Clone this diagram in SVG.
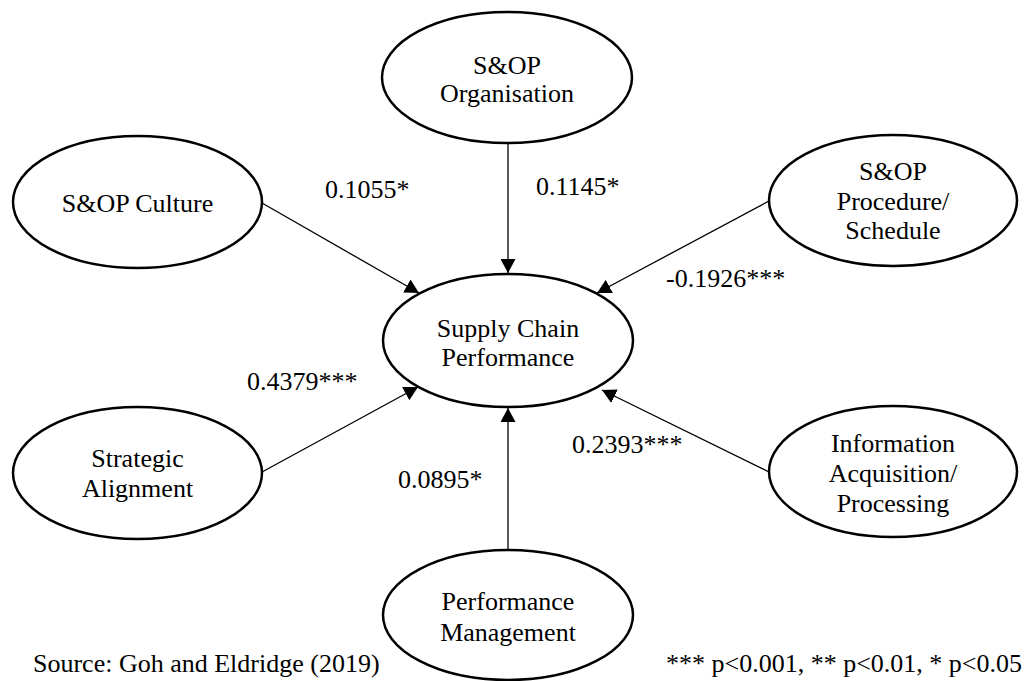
<svg xmlns="http://www.w3.org/2000/svg" width="1027" height="681" viewBox="0 0 1027 681">
<defs>
<marker id="ah" markerUnits="userSpaceOnUse" markerWidth="15" markerHeight="15" refX="14" refY="7.5" orient="auto">
<path d="M0,0 L14,7.5 L0,15 z" fill="#000"/>
</marker>
</defs>
<rect width="1027" height="681" fill="#fff"/>
<g id="connectors" stroke="#000" stroke-width="1.3" marker-end="url(#ah)">
<line x1="262" y1="203" x2="419" y2="293"/>
<line x1="508" y1="143" x2="508" y2="273"/>
<line x1="769" y1="201" x2="597" y2="293"/>
<line x1="262" y1="472" x2="418" y2="387"/>
<line x1="769" y1="472" x2="602" y2="390"/>
<line x1="508" y1="550" x2="508" y2="408"/>
</g>
<g font-family="Liberation Serif" font-size="26" fill="#000">
<g id="organisation" text-anchor="middle">
<ellipse cx="507" cy="77.5" rx="125" ry="65.5" fill="#fff" stroke="#000" stroke-width="2.5"/>
<text x="507" y="74">S&amp;OP</text>
<text x="507" y="102">Organisation</text>
</g>
<g id="culture" text-anchor="middle">
<ellipse cx="137.5" cy="202" rx="124.5" ry="66" fill="#fff" stroke="#000" stroke-width="2.5"/>
<text x="137.5" y="212">S&amp;OP Culture</text>
</g>
<g id="procedure" text-anchor="middle">
<ellipse cx="893" cy="200.5" rx="124" ry="65.5" fill="#fff" stroke="#000" stroke-width="2.5"/>
<text x="893" y="180">S&amp;OP</text>
<text x="893" y="210">Procedure/</text>
<text x="893" y="239">Schedule</text>
</g>
<g id="scp" text-anchor="middle">
<ellipse cx="508" cy="340.5" rx="125" ry="66.5" fill="#fff" stroke="#000" stroke-width="2.5"/>
<text x="508" y="337">Supply Chain</text>
<text x="508" y="366">Performance</text>
</g>
<g id="strategic" text-anchor="middle">
<ellipse cx="137.5" cy="473" rx="124.5" ry="66" fill="#fff" stroke="#000" stroke-width="2.5"/>
<text x="137.5" y="467">Strategic</text>
<text x="137.5" y="497">Alignment</text>
</g>
<g id="information" text-anchor="middle">
<ellipse cx="893" cy="471.5" rx="124" ry="65.5" fill="#fff" stroke="#000" stroke-width="2.5"/>
<text x="893" y="452">Information</text>
<text x="893" y="482">Acquisition/</text>
<text x="893" y="512">Processing</text>
</g>
<g id="performance" text-anchor="middle">
<ellipse cx="508" cy="615" rx="125" ry="65" fill="#fff" stroke="#000" stroke-width="2.5"/>
<text x="508" y="610">Performance</text>
<text x="508" y="641">Management</text>
</g>
<g id="labels">
<text x="325" y="198">0.1055*</text>
<text x="536" y="195">0.1145*</text>
<text x="666" y="287">-0.1926***</text>
<text x="247" y="390">0.4379***</text>
<text x="398" y="488">0.0895*</text>
<text x="572" y="453">0.2393***</text>
<text x="33" y="672">Source: Goh and Eldridge (2019)</text>
<text x="1022" y="672" text-anchor="end">*** p&lt;0.001, ** p&lt;0.01, * p&lt;0.05</text>
</g>
</g>
</svg>
